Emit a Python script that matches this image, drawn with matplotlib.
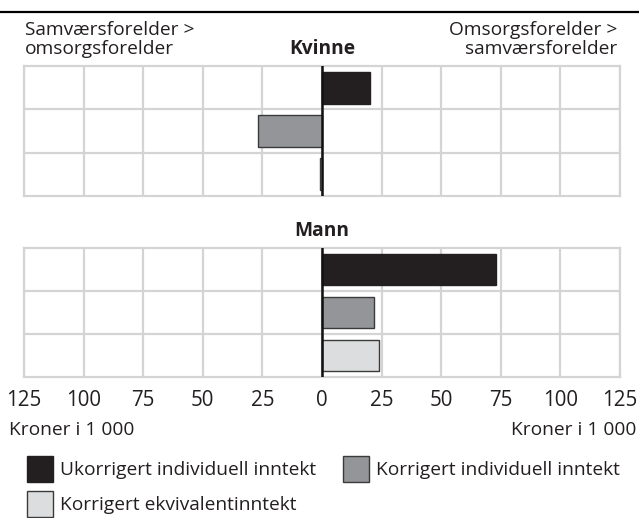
import matplotlib
matplotlib.use("Agg")
import matplotlib.pyplot as plt
from matplotlib.patches import Rectangle
from matplotlib.lines import Line2D

plt.rcParams['font.family'] = ['Open Sans', 'DejaVu Sans']

series = ["Ukorrigert individuell inntekt", "Korrigert individuell inntekt", "Korrigert ekvivalentinntekt"]
kvinne = [20, -27, -1]
mann = [73, 22, 24]
ticks = [-125, -100, -75, -50, -25, 0, 25, 50, 75, 100, 125]
tick_labels = [str(abs(t)) for t in ticks]
colors = ["#231f20", "#939598", "#dcddde"]
edges = ["#231f20", "#3a3a3a", "#3a3a3a"]

W, H = 639, 518
fig = plt.figure(figsize=(W / 100, H / 100), dpi=100)

def fx(px):
    return px / W

def fy(py):
    return 1 - py / H

fig.add_artist(Line2D([0, 1], [fy(12), fy(12)], color="black", lw=1.6, transform=fig.transFigure))

FS = 13.8
tc = "#231f20"

def panel(top, bottom, values, show_ticks):
    left, right = 24, 620
    ax = fig.add_axes([fx(left), fy(bottom), fx(right - left), (bottom - top) / H])
    ypos = [0, 1, 2]
    ax.barh(ypos, values, height=0.74, color=colors, edgecolor=edges, linewidth=1.0, zorder=3)
    ax.set_xlim(-125, 125)
    ax.set_ylim(2.5, -0.5)
    for t in ticks:
        ax.axvline(t, color="#d4d4d4", lw=1.6, zorder=1)
    for y in [0.5, 1.5]:
        ax.axhline(y, color="#d4d4d4", lw=1.6, zorder=1)
    ax.axvline(0, color="#111111", lw=1.8, zorder=4)
    for s in ax.spines.values():
        s.set_color("#d4d4d4")
        s.set_linewidth(1.6)
    ax.set_yticks([])
    ax.set_xticks(ticks)
    ax.tick_params(axis="x", length=0, pad=9, labelsize=FS + 1, colors=tc)
    if show_ticks:
        ax.set_xticklabels(tick_labels)
    else:
        ax.set_xticklabels([])
    return ax

panel(66, 196, kvinne, False)
panel(248, 377, mann, True)

fig.text(fx(25), fy(35), "Samværsforelder >", ha="left", va="baseline", fontsize=FS, color=tc)
fig.text(fx(25), fy(54), "omsorgsforelder", ha="left", va="baseline", fontsize=FS, color=tc)
fig.text(fx(617), fy(35), "Omsorgsforelder >", ha="right", va="baseline", fontsize=FS, color=tc)
fig.text(fx(617), fy(54), "samværsforelder", ha="right", va="baseline", fontsize=FS, color=tc)
fig.text(fx(322), fy(54), "Kvinne", ha="center", va="baseline", fontsize=FS, fontweight="bold", color=tc)
fig.text(fx(322), fy(236), "Mann", ha="center", va="baseline", fontsize=FS, fontweight="bold", color=tc)

fig.text(fx(9), fy(435), "Kroner i 1 000", ha="left", va="baseline", fontsize=FS, color=tc)
fig.text(fx(636), fy(435), "Kroner i 1 000", ha="right", va="baseline", fontsize=FS, color=tc)

legend_pos = [(27, 475), (343, 475), (27, 510)]
for (x, y), name, c, e in zip(legend_pos, series, colors, edges):
    fig.add_artist(Rectangle((fx(x), fy(y + 7)), 26 / W, 26 / H, facecolor=c, edgecolor=e,
                             lw=1.0, transform=fig.transFigure))
    fig.text(fx(x + 33), fy(y), name, ha="left", va="baseline", fontsize=FS, color=tc)

fig.savefig("out.png", dpi=100)
